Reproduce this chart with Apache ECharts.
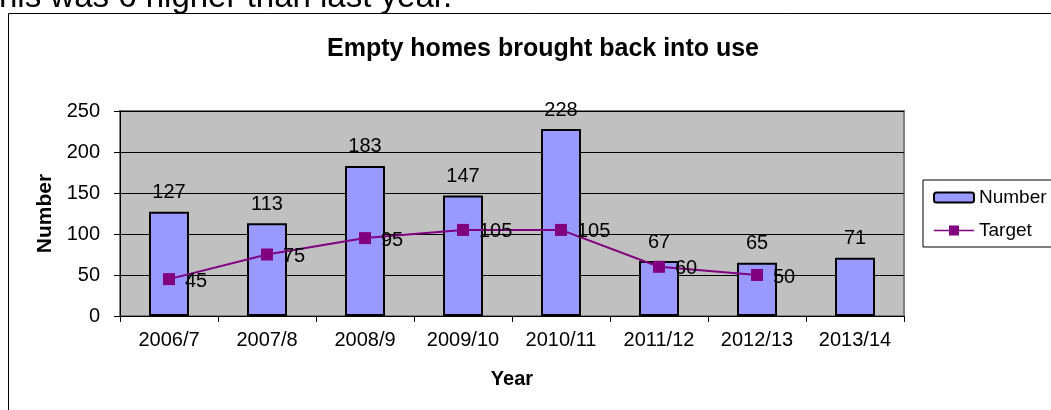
<!DOCTYPE html>
<html><head><meta charset="utf-8">
<script src="https://cdn.jsdelivr.net/npm/echarts@6/dist/echarts.min.js"></script>
<style>html,body{margin:0;padding:0;background:#fff}#c{width:1051px;height:410px}</style>
</head><body><div id="c"></div>
<script>
const categories = ['2006/7','2007/8','2008/9','2009/10','2010/11','2011/12','2012/13','2013/14'];
const numberValues = [127,113,183,147,228,67,65,71];
const targetValues = [45,75,95,105,105,60,50,null];
const yTicks = [0,50,100,150,200,250];

const chart = echarts.init(document.getElementById('c'), null, {renderer:'canvas'});
const F = 'Arial, "Liberation Sans", sans-serif';
chart.setOption({
  animation:false,
  backgroundColor:'#fff',
  graphic:[
    {type:'rect', shape:{x:8.5,y:13.5,width:1100,height:500}, style:{fill:'none',stroke:'#000',lineWidth:1}, z:-1},
    {type:'text', x:-1, y:14, style:{text:'his was 6 higher than last year.', font:'33px '+F, fill:'#000', verticalAlign:'bottom'}}
  ],
  title:{text:'Empty homes brought back into use', left:538, top:32, textAlign:'center',
    textStyle:{fontFamily:F, fontSize:25, fontWeight:'bold', color:'#000'}},
  legend:{orient:'vertical', left:923, top:180, padding:[8,10,7,10], itemGap:14,
    borderColor:'#000', borderWidth:1, itemWidth:40, itemHeight:10,
    textStyle:{fontFamily:F, fontSize:19, color:'#000'},
    data:[{name:'Number'},
          {name:'Target', icon:'path://M0,4.2L15,4.2L15,0L25,0L25,10L15,10L15,5.8L0,5.8Z M25,4.2L40,4.2L40,5.8L25,5.8Z',
           itemStyle:{color:'#800080', borderWidth:0}}]},
  grid:{left:120, top:111, right:147, bottom:94, show:true, backgroundColor:'#C0C0C0', borderColor:'#808080', borderWidth:2},
  xAxis:{type:'category', data:categories, name:'Year', nameLocation:'middle', nameGap:53,
    nameTextStyle:{fontFamily:F, fontSize:20, fontWeight:'bold', color:'#000'},
    axisLine:{lineStyle:{color:'#000', width:1}},
    axisTick:{show:true, length:6, lineStyle:{color:'#000'}},
    axisLabel:{fontFamily:F, fontSize:20, color:'#000', margin:14}},
  yAxis:{type:'value', min:yTicks[0], max:yTicks[yTicks.length-1], interval:50, name:'Number', nameLocation:'middle', nameGap:62,
    nameTextStyle:{fontFamily:F, fontSize:21, fontWeight:'bold', color:'#000'},
    axisLine:{show:true, lineStyle:{color:'#000', width:1}},
    axisTick:{show:true, length:6, lineStyle:{color:'#000'}},
    axisLabel:{fontFamily:F, fontSize:20, color:'#000', margin:20},
    splitLine:{lineStyle:{color:'#000', width:1}}},
  series:[
    {name:'Number', type:'bar', data:numberValues, barWidth:40,
      itemStyle:{color:'#9999FF', borderColor:'#000', borderWidth:2},
      label:{show:true, position:'top', distance:9, fontFamily:F, fontSize:20, color:'#000'}},
    {name:'Target', type:'line', data:targetValues, connectNulls:false,
      symbol:'rect', symbolSize:12,
      lineStyle:{color:'#800080', width:2}, itemStyle:{color:'#800080'},
      label:{show:true, position:'right', distance:10, offset:[0,2], fontFamily:F, fontSize:20, color:'#000'}}
  ]
});
</script></body></html>
